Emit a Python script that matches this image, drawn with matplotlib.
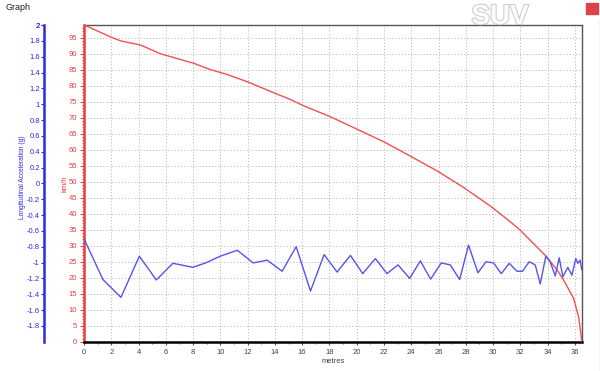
import matplotlib
matplotlib.use("Agg")
import matplotlib.pyplot as plt
from matplotlib.patches import Rectangle
import matplotlib.patheffects as pe

plt.rcParams["font.family"] = ["Liberation Sans", "DejaVu Sans"]

# Speed (km/h) vs distance (metres)
speed_x = [0, 0.73, 2.08, 2.7, 4.15, 5.6, 8.05, 9.3, 10.5, 12.0, 14.2, 15.14, 16.12,
           18.07, 20.03, 21.98, 23.93, 25.89, 27.84, 29.8, 31.26, 31.98, 33.87,
           34.7, 35.17, 35.9, 36.27, 36.46, 36.5]
speed_kmh = [99, 97.6, 95, 94, 92.7, 90, 87, 85, 83.5, 81.2, 77.3, 75.7, 73.7,
             70.3, 66.4, 62.5, 58.0, 53.4, 48.2, 42.4, 37.5, 34.9, 26.8,
             22.4, 19.3, 13.6, 7.8, 2.0, 0.0]

# Longitudinal acceleration (g) vs distance (metres)
acc_x = [0, 1.39, 2.71, 4.06, 5.3, 6.52, 7.99, 8.92, 10.0, 11.24, 12.41, 13.43,
         14.53, 15.56, 16.61, 17.61, 18.56, 19.54, 20.44, 21.37, 22.22, 23.03,
         23.88, 24.67, 25.42, 26.2, 26.86, 27.55, 28.2, 28.89, 29.48, 30.04,
         30.6, 31.19, 31.75, 32.16, 32.65, 33.09, 33.46, 33.87, 34.19, 34.56,
         34.85, 35.12, 35.48, 35.78, 36.07, 36.22, 36.39, 36.5]
acc_g = [-0.70, -1.215, -1.44, -0.92, -1.22, -1.01, -1.06, -1.005, -0.92, -0.845,
         -1.005, -0.97, -1.11, -0.80, -1.36, -0.90, -1.12, -0.91, -1.14, -0.95,
         -1.14, -1.03, -1.20, -0.98, -1.21, -1.005, -1.03, -1.215, -0.78, -1.13,
         -0.99, -1.005, -1.14, -1.01, -1.11, -1.11, -0.99, -1.03, -1.27, -0.92,
         -0.99, -1.17, -0.94, -1.18, -1.06, -1.16, -0.95, -1.01, -0.97, -1.09]

x_ticks = list(range(0, 37, 2))
speed_ticks = list(range(0, 100, 5))
acc_ticks = [round(-1.8 + 0.2 * i, 1) for i in range(20)]

RED = "#ee3b3b"
BLUE = "#2a2ae0"

fig = plt.figure(figsize=(6.0, 3.71), dpi=100)
fig.patch.set_facecolor("white")

ax_w = 581.7 - 84
ax = fig.add_axes([84 / 600, 1 - 341.7 / 371, ax_w / 600, (341.7 - 25) / 371])
ax.set_xlim(0, 36.5)
ax.set_ylim(0, 98.97)

# grid
ax.set_xticks(x_ticks)
ax.set_xticks([i for i in range(0, 37)], minor=True)
ax.set_yticks(speed_ticks)
ax.set_yticks(list(range(0, 99)), minor=True)
ax.grid(True, which="major", color="#bdbdbd", linestyle=(0, (1.2, 2.0)), linewidth=0.7)
ax.set_axisbelow(True)

ax.plot(speed_x, speed_kmh, color="#f05050", linewidth=1.0, zorder=3)

ax.tick_params(axis="x", which="both", colors="#555555", labelsize=5.5, length=2, pad=3)
ax.tick_params(axis="x", which="minor", length=1.5)
ax.tick_params(axis="y", which="major", colors=RED, labelsize=5.5, length=3, pad=2)
ax.tick_params(axis="y", which="minor", colors=RED, length=1.5)
for lbl in ax.get_xticklabels():
    lbl.set_color("#444444")

ax.spines["left"].set_color(RED)
ax.spines["left"].set_linewidth(1.8)
ax.spines["left"].set_linestyle((0, (2, 1)))
ax.spines["bottom"].set_color("black")
ax.spines["bottom"].set_linewidth(1.8)
ax.spines["top"].set_color("#555555")
ax.spines["top"].set_linewidth(1.0)
ax.spines["right"].set_color("#555555")
ax.spines["right"].set_linewidth(1.0)

ax.set_xlabel("metres", fontsize=5.5, color="#444444", labelpad=2)
ax.set_ylabel("km/h", fontsize=5.5, color=RED)
ax.yaxis.set_label_coords((68 - 84) / ax_w, 0.5)

# acceleration axis
ax2 = ax.twinx()
ax2.set_ylim(-2, 2)
ax2.yaxis.set_label_position("left")
ax2.yaxis.set_ticks_position("left")
ax2.spines["left"].set_position(("outward", 40 * 0.72))
ax2.spines["left"].set_visible(True)
ax2.spines["left"].set_color(BLUE)
ax2.spines["left"].set_linewidth(1.8)
for s in ["right", "top", "bottom"]:
    ax2.spines[s].set_visible(False)
ax2.set_yticks(acc_ticks + [2.0])
ax2.set_yticklabels([("%g" % v) for v in acc_ticks] + ["2"])
ax2.tick_params(axis="y", which="major", colors=BLUE, labelsize=5.5, length=2, pad=1)
ax2.set_ylabel("Longitudinal Acceleration (g)", fontsize=4.8, color=BLUE, va="center")
ax2.yaxis.set_label_coords((22 - 84) / ax_w, 0.52)
ax2.plot(acc_x, acc_g, color="#5555ee", linewidth=1.0, zorder=4)

# window decorations
fig.text(5 / 600, 1 - 8 / 371, "Graph", fontsize=6.5, color="#222222", va="center", ha="left")
fig.text(500 / 600, 1 - 17 / 371, "SUV", fontsize=20, fontweight="bold", color="white",
         ha="center", va="center", alpha=0.9,
         path_effects=[pe.withStroke(linewidth=1.5, foreground="#c8c8c8")])
fig.add_artist(Rectangle((586 / 600, 1 - 14 / 371), 12 / 600, 11 / 371,
                         transform=fig.transFigure, color="#d9434a", zorder=5))
fig.add_artist(plt.Line2D([599.5 / 600, 599.5 / 600], [0, 1 - 20 / 371],
                          transform=fig.transFigure, color="#cfcfcf", linewidth=1))

fig.savefig("out.png", dpi=100)
